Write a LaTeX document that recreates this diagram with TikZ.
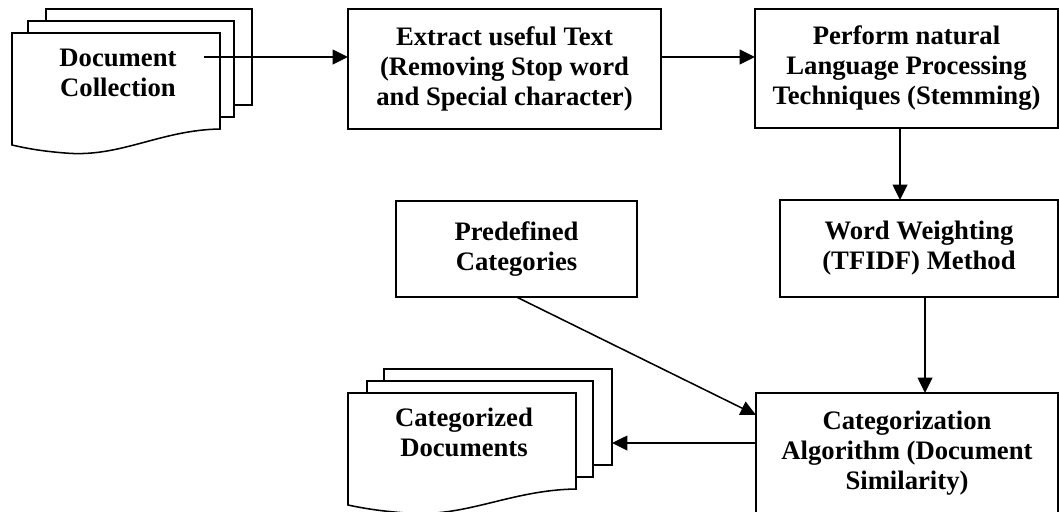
\documentclass[tikz,border=0pt]{standalone}
\usepackage{fontspec}
\setmainfont{Liberation Serif}
\usetikzlibrary{arrows.meta}
\begin{document}
\begin{tikzpicture}[x=0.75pt,y=-0.75pt,
  txt/.style={font=\bfseries\fontsize{20}{22.5}\selectfont, align=center, inner sep=0pt, outer sep=0pt},
  procbox/.style={txt, draw, line width=1.15pt},
  page/.style={draw, fill=white, line width=1.15pt},
  arr/.style={-{Triangle[length=11.5pt,width=11pt]}, line width=1.15pt}]
\path[use as bounding box, clip] (0,0) rectangle (1059,511);

% Document Collection stack
\draw[page] (46,9) rectangle (252,105);
\draw[page] (28,21) rectangle (234,117);
\draw[page] (12,33) -- (220,33) -- (220,129) .. controls (160,130) and (120,158) .. (65,153) .. controls (40,151) and (25,148) .. (12,145) -- cycle;
\node[txt] (coll) at (118,73) {Document\\Collection};

% Categorized Documents stack
\draw[page] (384,369) rectangle (612,465);
\draw[page] (367,381) rectangle (593,477);
\draw[page] (348,393) -- (576,393) -- (576,489) .. controls (510,490) and (466,518) .. (406,513) .. controls (379,511) and (362,508) .. (348,505) -- cycle;
\node[txt] (catdocs) at (464,432) {Categorized\\Documents};

% Process boxes
\node[procbox, line width=1.7pt, minimum width=234.75pt, minimum height=90pt] (extract) at (504.5,69)
  {Extract useful Text\\(Removing Stop word\\and Special character)};
\node[procbox, minimum width=227.25pt, minimum height=89.25pt] (perform) at (906.5,68.5)
  {Perform natural\\Language Processing\\Techniques (Stemming)};
\node[procbox, minimum width=208.5pt, minimum height=72.75pt] (weight) at (919,248.5)
  {Word Weighting\\(TFIDF) Method};
\node[procbox, minimum width=180.75pt, minimum height=72pt] (predef) at (516.5,249)
  {Predefined\\Categories};
\node[procbox, minimum width=226.5pt, minimum height=90pt] (categ) at (907,453)
  {Categorization\\Algorithm (Document\\Similarity)};

% Connectors
\coordinate (dcs) at (204,57);
\draw[arr] (dcs) -- (dcs -| extract.west);
\coordinate (r1) at (0,57);
\draw[arr] (extract.east |- r1) -- (perform.west |- r1);
\coordinate (c1) at (900,0);
\draw[arr] (perform.south -| c1) -- (weight.north -| c1);
\coordinate (c2) at (925,0);
\draw[arr] (weight.south -| c2) -- (categ.north -| c2);
\coordinate (r2) at (0,415);
\draw[arr] (predef.south) -- (categ.west |- r2);
\coordinate (r3) at (0,443);
\coordinate (cdr) at (612,443);
\draw[arr] (categ.west |- r3) -- (cdr);
\end{tikzpicture}
\end{document}
